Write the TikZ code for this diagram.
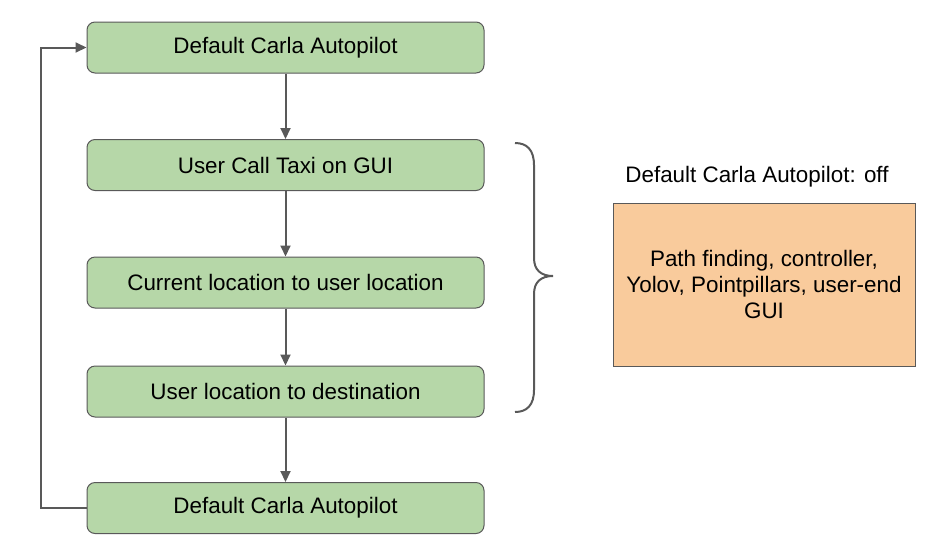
\documentclass[tikz,border=0pt]{standalone}
\usepackage{fontspec}
\setmainfont{Liberation Sans}
\usetikzlibrary{arrows.meta}
\definecolor{boxgreen}{HTML}{B6D7A8}
\definecolor{boxorange}{HTML}{F9CB9C}
\definecolor{linegray}{HTML}{595959}
\tikzset{
  stepbox/.style={draw=linegray, line width=1pt, fill=boxgreen, rounded corners=8pt,
    minimum width=397pt, minimum height=51pt, inner sep=0pt, font=\fontsize{22.4}{26}\selectfont},
  flow/.style={draw=linegray, line width=2pt, -{Triangle[length=11pt,width=10pt]}},
  infobox/.style={draw=linegray, line width=1pt, fill=boxorange,
    minimum width=302pt, minimum height=163pt, inner sep=0pt, align=center,
    font=\fontsize{22.4}{26}\selectfont},
}
\begin{document}
\begin{tikzpicture}[x=1pt,y=-1pt]
\useasboundingbox (0,0) rectangle (932,542);
\node[stepbox] (b1) at (285.5,47.5) {Default Carla Autopilot};
\node[stepbox] (b2) at (285.5,165) {User Call Taxi on GUI};
\node[stepbox] (b3) at (285.5,282.5) {Current location to user location};
\node[stepbox] (b4) at (285.5,391.5) {User location to destination};
\node[stepbox] (b5) at (285.5,508) {Default Carla Autopilot};
\draw[flow] (b1.south) -- (b2.north);
\draw[flow] (b2.south) -- (b3.north);
\draw[flow] (b3.south) -- (b4.north);
\draw[flow] (b4.south) -- (b5.north);
\draw[flow] (b5.west) -- ++(-46,0) |- (b1.west);
\node[infobox] (info) at (764,284.5) {Path finding, controller,\\Yolov, Pointpillars, user-end\\GUI};
\node[font=\fontsize{22.4}{26}\selectfont] (lbl) at (757,177) {Default Carla Autopilot: off};
\draw[draw=linegray, line width=2pt]
  (515,143) .. controls (527,143) and (534,150) .. (534,165) -- (534,258)
  .. controls (534,270) and (541,276) .. (553,276)
  .. controls (541,276) and (534,282) .. (534,294) -- (534,390)
  .. controls (534,405) and (527,412) .. (515,412);
\end{tikzpicture}
\end{document}
